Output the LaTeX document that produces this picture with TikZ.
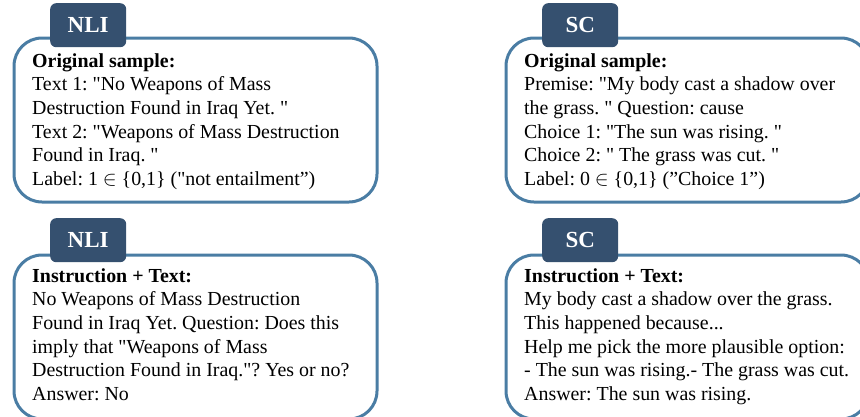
\documentclass[tikz,border=0pt]{standalone}
\usepackage{fontspec}
\setmainfont{Liberation Serif}[Ligatures=TeXOff]
\frenchspacing
\newcommand{\sq}{\symbol{34}}
\definecolor{bordercol}{HTML}{4A7DA4}
\definecolor{tabcol}{HTML}{35506F}
\tikzset{
  x=1pt, y=1pt,
  samplebox/.style={draw=bordercol, line width=3pt, rounded corners=28pt, fill=white,
    minimum width=363pt, minimum height=164pt, anchor=north west, inner sep=0pt},
  tabbox/.style={fill=tabcol, rounded corners=6pt, minimum width=76pt, minimum height=44pt,
    anchor=north west, inner sep=0pt, text=white, font=\fontsize{23}{27}\selectfont\bfseries},
  bodytext/.style={anchor=north west, inner sep=0pt, align=left,
    font=\fontsize{19.9}{23.6}\selectfont},
}
\begin{document}
\begin{tikzpicture}
\useasboundingbox (0,0) rectangle (860,-416);
\clip (0,0) rectangle (860,-416);
% top left
\node[samplebox] (b1) at (12.5,-36.5) {};
\node[tabbox] (t1) at (50,-3) {NLI};
\node[bodytext] (x1) at (32,-53.3) {\textbf{Original sample:}\\
Text 1: \sq No Weapons of Mass\\
Destruction Found in Iraq Yet. \sq\\
Text 2: \sq Weapons of Mass Destruction\\
Found in Iraq. \sq\\
Label: 1 $\in$ \{0,1\} (\sq not entailment”)};
% top right
\node[samplebox] (b2) at (504.5,-36.5) {};
\node[tabbox] (t2) at (542,-3) {SC};
\node[bodytext] (x2) at (524,-53.3) {\textbf{Original sample:}\\
Premise: \sq My body cast a shadow over\\
the grass. \sq{} Question: cause\\
Choice 1: \sq The sun was rising. \sq\\
Choice 2: \sq{} The grass was cut. \sq\\
Label: 0 $\in$ \{0,1\} (”Choice 1”)};
% bottom left
\node[samplebox] (b3) at (12.5,-253.5) {};
\node[tabbox] (t3) at (50,-218) {NLI};
\node[bodytext] (x3) at (32,-268.3) {\textbf{Instruction + Text:}\\
No Weapons of Mass Destruction\\
Found in Iraq Yet. Question: Does this\\
imply that \sq Weapons of Mass\\
Destruction Found in Iraq.\sq? Yes or no?\\
Answer: No};
% bottom right
\node[samplebox] (b4) at (504.5,-253.5) {};
\node[tabbox] (t4) at (542,-218) {SC};
\node[bodytext] (x4) at (524,-268.3) {\textbf{Instruction + Text:}\\
My body cast a shadow over the grass.\\
This happened because...\\
Help me pick the more plausible option:\\
- The sun was rising.- The grass was cut.\\
Answer: The sun was rising.};
\end{tikzpicture}
\end{document}
